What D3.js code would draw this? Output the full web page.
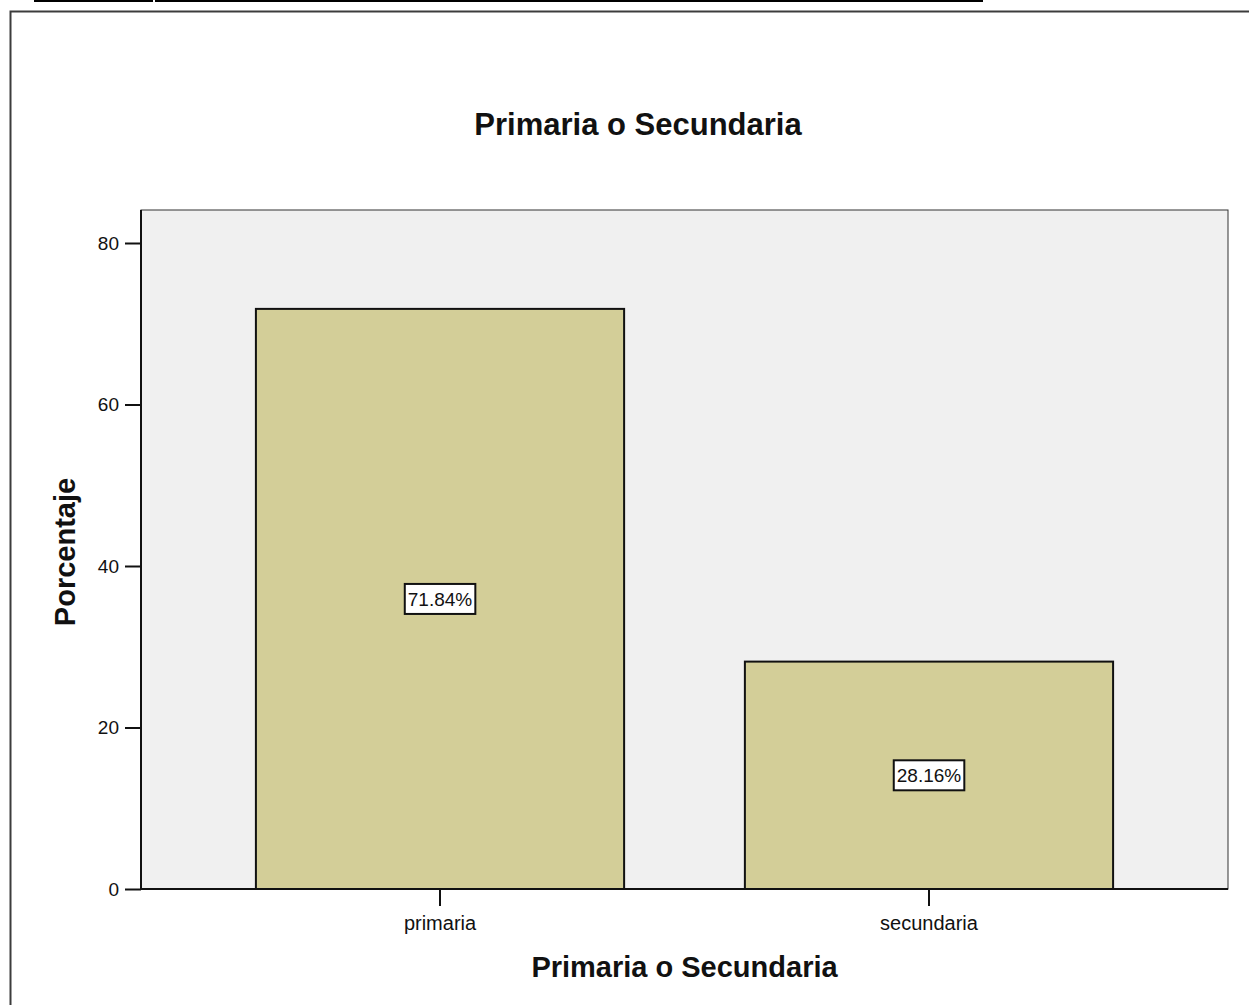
<!DOCTYPE html>
<html>
<head>
<meta charset="utf-8">
<script src="https://cdn.jsdelivr.net/npm/d3@7"></script>
<style>
  html, body { margin: 0; padding: 0; background: #fff; }
  svg { display: block; font-family: "Liberation Sans", Arial, sans-serif; }
</style>
</head>
<body>
<svg id="chart" width="1249" height="1005"></svg>
<script>
// Frequency of school level, as percentage of cases
const categories = ["primaria", "secundaria"];
const percentages = [71.84, 28.16];
const yTicks = [0, 20, 40, 60, 80];

const title = "Primaria o Secundaria";
const xTitle = "Primaria o Secundaria";
const yTitle = "Porcentaje";

const FONT = "Liberation Sans, Arial, sans-serif";
const svg = d3.select("#chart");

// Table rule left over above the chart frame
svg.append("rect").attr("x", 34).attr("y", 0).attr("width", 949).attr("height", 2).attr("fill", "#000");
svg.append("rect").attr("x", 153).attr("y", 0).attr("width", 2).attr("height", 2).attr("fill", "#fff");

// Outer chart frame
svg.append("path")
  .attr("d", "M10.5,1005 V11.5 H1249")
  .attr("fill", "none")
  .attr("stroke", "#3c3c3c")
  .attr("stroke-width", 2);

const plot = { left: 141, right: 1228, top: 210, bottom: 889 };

const x = d3.scaleBand()
  .domain(categories)
  .range([plot.left, plot.right])
  .paddingInner(0.247)
  .paddingOuter(0.235);

const y = d3.scaleLinear()
  .domain([0, 80])
  .range([plot.bottom, 243]);

// Plot background
svg.append("rect")
  .attr("x", plot.left).attr("y", plot.top)
  .attr("width", plot.right - plot.left).attr("height", plot.bottom - plot.top)
  .attr("fill", "#f0f0f0")
  .attr("stroke", "#333")
  .attr("stroke-width", 1);

// Bars
svg.append("g").selectAll("rect")
  .data(categories)
  .join("rect")
  .attr("x", d => x(d))
  .attr("y", (d, i) => y(percentages[i]))
  .attr("width", x.bandwidth())
  .attr("height", (d, i) => y(0) - y(percentages[i]))
  .attr("fill", "#d3ce98")
  .attr("stroke", "#111")
  .attr("stroke-width", 2);

// Left and bottom axis lines
svg.append("path")
  .attr("d", `M${plot.left},${plot.top} V${plot.bottom} H${plot.right}`)
  .attr("fill", "none")
  .attr("stroke", "#111")
  .attr("stroke-width", 2);

// Y axis
const yAxis = svg.append("g")
  .attr("transform", `translate(${plot.left},0)`)
  .attr("font-family", FONT)
  .attr("font-size", 19)
  .call(d3.axisLeft(y).tickValues(yTicks).tickSize(16).tickPadding(6).tickFormat(d3.format("d")));
yAxis.attr("font-family", FONT).attr("font-size", 19);
yAxis.select(".domain").remove();
yAxis.selectAll(".tick line").attr("stroke", "#111").attr("stroke-width", 2);
yAxis.selectAll(".tick text").attr("fill", "#111");

// X axis
const xAxis = svg.append("g")
  .attr("transform", `translate(0,${plot.bottom})`)
  .call(d3.axisBottom(x).tickSize(17).tickPadding(10));
xAxis.attr("font-family", FONT).attr("font-size", 20);
xAxis.select(".domain").remove();
xAxis.selectAll(".tick line").attr("stroke", "#111").attr("stroke-width", 2);
xAxis.selectAll(".tick text").attr("fill", "#111");

// Value labels in boxes at bar mid-height
const labels = svg.append("g")
  .attr("font-family", FONT)
  .attr("font-size", 19)
  .selectAll("g")
  .data(categories)
  .join("g")
  .attr("transform", (d, i) => `translate(${x(d) + x.bandwidth() / 2},${(y(percentages[i]) + y(0)) / 2})`);

labels.append("text")
  .attr("text-anchor", "middle")
  .attr("dy", "0.35em")
  .attr("fill", "#111")
  .text((d, i) => percentages[i].toFixed(2) + "%");

labels.each(function () {
  const g = d3.select(this);
  const bb = g.select("text").node().getBBox();
  g.insert("rect", "text")
    .attr("x", bb.x - 3).attr("y", -15)
    .attr("width", bb.width + 6).attr("height", 30)
    .attr("fill", "#fff")
    .attr("stroke", "#111")
    .attr("stroke-width", 2);
});

// Titles
svg.append("text")
  .attr("x", 638).attr("y", 135)
  .attr("text-anchor", "middle")
  .attr("font-family", FONT)
  .attr("font-weight", "bold")
  .attr("font-size", 31)
  .attr("fill", "#111")
  .text(title);

svg.append("text")
  .attr("x", (plot.left + plot.right) / 2).attr("y", 977)
  .attr("text-anchor", "middle")
  .attr("font-family", FONT)
  .attr("font-weight", "bold")
  .attr("font-size", 29)
  .attr("fill", "#111")
  .text(xTitle);

svg.append("text")
  .attr("transform", `translate(75,552) rotate(-90)`)
  .attr("text-anchor", "middle")
  .attr("font-family", FONT)
  .attr("font-weight", "bold")
  .attr("font-size", 29)
  .attr("fill", "#111")
  .text(yTitle);
</script>
</body>
</html>
